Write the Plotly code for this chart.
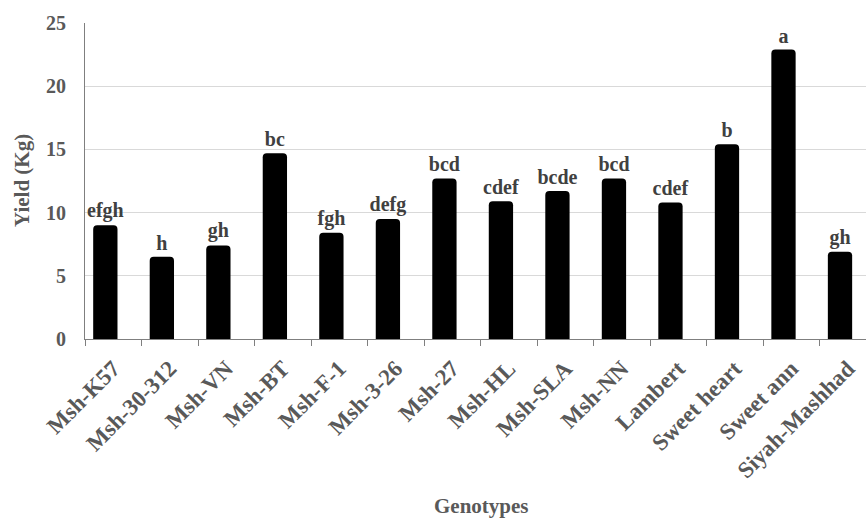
import plotly.graph_objects as go

# Genotype yields with their mean-separation letters
genotypes = ["Msh-K57", "Msh-30-312", "Msh-VN", "Msh-BT", "Msh-F-1", "Msh-3-26",
             "Msh-27", "Msh-HL", "Msh-SLA", "Msh-NN", "Lambert", "Sweet heart",
             "Sweet ann", "Siyah-Mashhad"]
yield_kg = [9.0, 6.5, 7.4, 14.7, 8.4, 9.5, 12.7, 10.9, 11.7, 12.7, 10.8, 15.4, 22.9, 6.9]
letters = ["efgh", "h", "gh", "bc", "fgh", "defg", "bcd", "cdef", "bcde", "bcd",
           "cdef", "b", "a", "gh"]
y_ticks = [0, 5, 10, 15, 20, 25]

SERIF = "Liberation Serif"
AXIS_GREY = "#595959"
BAR_WIDTH = 0.43

fig = go.Figure(
    go.Bar(
        x=genotypes,
        y=yield_kg,
        text=letters,
        textposition="outside",
        constraintext="none",
        cliponaxis=False,
        textfont=dict(family=SERIF, size=20, color="#404040", weight="bold"),
        marker=dict(color="black", cornerradius=4, line=dict(width=0)),
        width=BAR_WIDTH,
        offset=-0.14 - BAR_WIDTH / 2,
        showlegend=False,
    )
)

fig.update_layout(
    width=866,
    height=521,
    margin=dict(l=85, r=0, t=23, b=182),
    paper_bgcolor="white",
    plot_bgcolor="white",
    font=dict(family=SERIF, color=AXIS_GREY),
)

fig.update_xaxes(
    type="category",
    range=[-0.5, 13.32],
    tickangle=-45,
    tickfont=dict(family=SERIF, size=23, color=AXIS_GREY, weight="bold"),
    ticklabelstandoff=6,
    showline=True,
    linecolor="#7f7f7f",
    linewidth=1,
    ticks="outside",
    tickson="boundaries",
    ticklen=6,
    tickcolor="#7f7f7f",
    showgrid=False,
)

fig.update_yaxes(
    range=[0, 25],
    tickvals=y_ticks,
    tickfont=dict(family=SERIF, size=20, color=AXIS_GREY, weight="bold"),
    ticklabelstandoff=14,
    showline=True,
    linecolor="#7f7f7f",
    linewidth=1,
    showgrid=True,
    gridcolor="#d9d9d9",
    gridwidth=1,
    zeroline=False,
)

# Axis titles placed as annotations
fig.add_annotation(
    text="Yield (Kg)", xref="paper", yref="paper",
    x=(22 - 85) / 781, y=0.5, xanchor="center", yanchor="middle",
    textangle=-90, showarrow=False,
    font=dict(family=SERIF, size=21, color=AXIS_GREY, weight="bold"),
)
fig.add_annotation(
    text="Genotypes", xref="paper", yref="paper",
    x=(481 - 85) / 781, y=-(506 - 339) / 316, xanchor="center", yanchor="middle",
    showarrow=False,
    font=dict(family=SERIF, size=21, color=AXIS_GREY, weight="bold"),
)

fig.write_html("out.html")
